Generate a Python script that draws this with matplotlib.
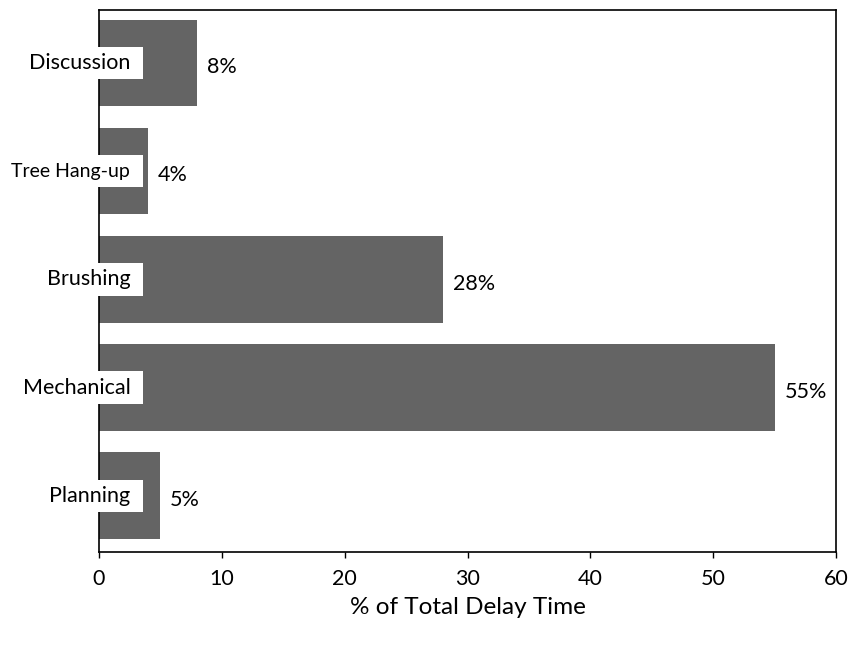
import matplotlib
matplotlib.use('Agg')
import matplotlib.pyplot as plt
from matplotlib.patches import Rectangle
import numpy as np

plt.rcParams['font.family'] = ['Lato', 'DejaVu Sans']

# Delay categories, bottom to top
categories = ['Planning', 'Mechanical', 'Brushing', 'Tree Hang-up', 'Discussion']
delay_pct = [5, 55, 28, 4, 8]
label_size = [15.5, 15.5, 15.5, 14, 15.5]
xticks = [0, 10, 20, 30, 40, 50, 60]

fig = plt.figure(figsize=(8.48, 6.52), dpi=100)
ax = fig.add_axes([99 / 848, 100 / 652, 737 / 848, 542 / 652])

y = np.arange(len(categories))
ax.barh(y, delay_pct, height=0.8, color='#646464')

ax.set_xlim(0, 60)
ax.set_ylim(-0.52, 4.49)
ax.set_xticks(xticks)
ax.set_yticks([])
ax.tick_params(axis='x', labelsize=15.5, length=4, width=1, pad=8)
for s in ax.spines.values():
    s.set_linewidth(1.2)

# category names sit in white boxes over the bar starts (covering the spine)
for yi, name, fs in zip(y, categories, label_size):
    ax.add_patch(Rectangle((-8, yi - 0.15), 11.6, 0.30, fc='white', ec='none',
                           zorder=3, clip_on=False))
    ax.text(2.55, yi, name, ha='right', va='center', fontsize=fs, zorder=4)

# value labels at the end of each bar
for yi, v in zip(y, delay_pct):
    ax.annotate(f'{v}%', xy=(v, yi), xytext=(7, -3), textcoords='offset points',
                ha='left', va='center', fontsize=15.5)

ax.set_xlabel('% of Total Delay Time', fontsize=17.5, labelpad=6)

fig.savefig('out.png', dpi=100)
